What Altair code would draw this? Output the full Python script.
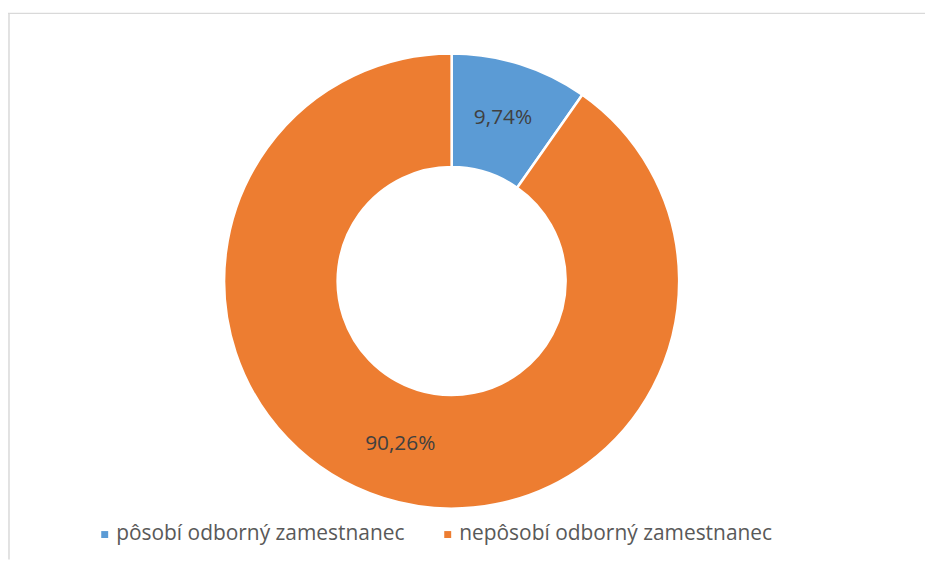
import altair as alt
import pandas as pd

categories = ["pôsobí odborný zamestnanec", "nepôsobí odborný zamestnanec"]
values = [9.74, 90.26]
labels = ["9,74%", "90,26%"]
colors = ["#5B9BD5", "#ED7D31"]
order = [0, 1]

df = pd.DataFrame({"kategoria": categories, "podiel": values, "label": labels, "poradie": order})
frame = pd.DataFrame({"k": [0]})

W, H = 925, 554
CX, CY = 447.5, 273
FONT = "Open Sans"

theta = alt.Theta("podiel:Q", stack=True)
ordr = alt.Order("poradie:Q")

arcs = alt.Chart(df).mark_arc(
    outerRadius=229.5, innerRadius=115, stroke="white", strokeWidth=2.5
).encode(
    theta=theta,
    order=ordr,
    color=alt.Color(
        "kategoria:N",
        scale=alt.Scale(domain=categories, range=colors),
        legend=alt.Legend(
            orient="none", legendX=87, legendY=518, direction="horizontal",
            title=None, symbolType="square", symbolSize=49, symbolStrokeWidth=0,
            labelFontSize=21.1, labelFont=FONT, labelColor="#595959",
            labelOffset=1, columnPadding=32, padding=0, labelLimit=0,
        ),
    ),
    x=alt.value(CX),
    y=alt.value(CY),
)

text = alt.Chart(df).mark_text(
    radius=172, fontSize=21, font=FONT, color="#404040", align="center", baseline="middle"
).encode(
    theta=theta,
    order=ordr,
    text="label:N",
    x=alt.value(CX),
    y=alt.value(CY),
)

left = alt.Chart(frame).mark_rule(color="#d9d9d9", strokeWidth=1.5).encode(
    x=alt.value(1), y=alt.value(3), y2=alt.value(H)
)
top = alt.Chart(frame).mark_rule(color="#d9d9d9", strokeWidth=1.5).encode(
    x=alt.value(0), x2=alt.value(W), y=alt.value(3)
)

chart = alt.layer(left, top, arcs, text).properties(
    width=W, height=H, padding=0, autosize="none", background="white"
).configure_view(stroke=None)

chart.save("out.html", embed_options={"renderer": "svg", "actions": False})
